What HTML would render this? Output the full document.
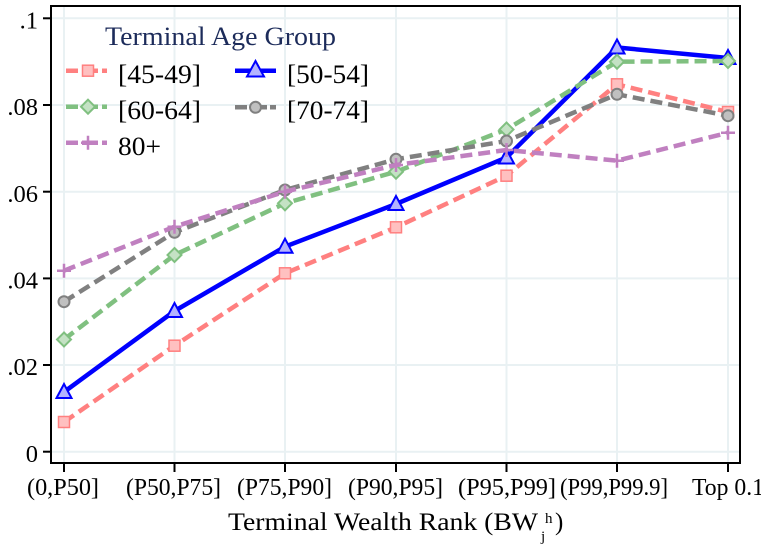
<!DOCTYPE html>
<html><head><meta charset="utf-8"><style>
html,body{margin:0;padding:0;background:#fff;}
svg{display:block;}
text{font-family:"Liberation Serif","DejaVu Serif",serif;}
</style></head><body>
<svg width="761" height="549" viewBox="0 0 761 549" xmlns="http://www.w3.org/2000/svg">
<rect x="0" y="0" width="761" height="549" fill="#fff"/>
<!-- grid -->
<g stroke="#e9f1f3" stroke-width="2">
<line x1="52" x2="739" y1="18.3" y2="18.3"/>
<line x1="52" x2="739" y1="105" y2="105"/>
<line x1="52" x2="739" y1="191.7" y2="191.7"/>
<line x1="52" x2="739" y1="278.4" y2="278.4"/>
<line x1="52" x2="739" y1="365" y2="365"/>
<line x1="52" x2="739" y1="451.7" y2="451.7"/>
<line x1="64" x2="64" y1="7" y2="462"/>
<line x1="174.5" x2="174.5" y1="7" y2="462"/>
<line x1="285" x2="285" y1="7" y2="462"/>
<line x1="396" x2="396" y1="7" y2="462"/>
<line x1="506.5" x2="506.5" y1="7" y2="462"/>
<line x1="617" x2="617" y1="7" y2="462"/>
<line x1="728" x2="728" y1="7" y2="462"/>
</g>
<!-- frame -->
<rect x="51" y="6" width="689" height="457" fill="none" stroke="#000" stroke-width="2"/>
<!-- ticks -->
<g stroke="#000" stroke-width="2">
<line x1="43" x2="51" y1="18.3" y2="18.3"/>
<line x1="43" x2="51" y1="105" y2="105"/>
<line x1="43" x2="51" y1="191.7" y2="191.7"/>
<line x1="43" x2="51" y1="278.4" y2="278.4"/>
<line x1="43" x2="51" y1="365" y2="365"/>
<line x1="43" x2="51" y1="451.7" y2="451.7"/>
<line x1="64" x2="64" y1="463" y2="472"/>
<line x1="174.5" x2="174.5" y1="463" y2="472"/>
<line x1="285" x2="285" y1="463" y2="472"/>
<line x1="396" x2="396" y1="463" y2="472"/>
<line x1="506.5" x2="506.5" y1="463" y2="472"/>
<line x1="617" x2="617" y1="463" y2="472"/>
<line x1="728" x2="728" y1="463" y2="472"/>
</g>
<g font-size="24.5" fill="#000" text-anchor="end">
<text x="38" y="28.5">.1</text>
<text x="38" y="115.2">.08</text>
<text x="38" y="201.9">.06</text>
<text x="38" y="288.6">.04</text>
<text x="38" y="375.2">.02</text>
<text x="38" y="462">0</text>
</g>
<g font-size="24.5" fill="#000">
<text x="27" y="495" textLength="72" lengthAdjust="spacingAndGlyphs">(0,P50]</text>
<text x="126" y="495" textLength="95" lengthAdjust="spacingAndGlyphs">(P50,P75]</text>
<text x="237" y="495" textLength="95" lengthAdjust="spacingAndGlyphs">(P75,P90]</text>
<text x="348" y="495" textLength="95" lengthAdjust="spacingAndGlyphs">(P90,P95]</text>
<text x="458" y="495" textLength="98" lengthAdjust="spacingAndGlyphs">(P95,P99]</text>
<text x="560" y="495" textLength="108" lengthAdjust="spacingAndGlyphs">(P99,P99.9]</text>
<text x="692" y="495" textLength="72" lengthAdjust="spacingAndGlyphs">Top 0.1</text>
</g>
<!-- axis title -->
<g font-size="25" fill="#000">
<text x="228" y="530" textLength="310" lengthAdjust="spacingAndGlyphs">Terminal Wealth Rank (BW</text>
<text x="545" y="523" font-size="15">h</text>
<text x="541" y="541" font-size="15">j</text>
<text x="555" y="530">)</text>
</g>

<!-- series 45-49 -->
<polyline fill="none" stroke="#ff8080" stroke-width="4.5" stroke-dasharray="12 6" points="64,422 174.5,345.7 285,273.3 396,227.3 506.5,175.7 617,84.3 728,112"/>
<g fill="#ffc0c0" stroke="#ff8080" stroke-width="1.5">
<rect x="58.5" y="416.5" width="11" height="11"/>
<rect x="169" y="340.2" width="11" height="11"/>
<rect x="279.5" y="267.8" width="11" height="11"/>
<rect x="390.5" y="221.8" width="11" height="11"/>
<rect x="501" y="170.2" width="11" height="11"/>
<rect x="611.5" y="78.8" width="11" height="11"/>
<rect x="722.5" y="106.5" width="11" height="11"/>
</g>
<!-- series 50-54 -->
<polyline fill="none" stroke="#0000ff" stroke-width="4.5" points="64,392 174.5,311 285,246.7 396,204 506.5,157.5 617,47.5 728,58"/>
<g fill="#b3b3ff" stroke="#0000ff" stroke-width="2">
<polygon points="64,384 71.5,398 56.5,398"/>
<polygon points="174.5,303 182,317 167,317"/>
<polygon points="285,238.7 292.5,252.7 277.5,252.7"/>
<polygon points="396,196 403.5,210 388.5,210"/>
<polygon points="506.5,149.5 514,163.5 499,163.5"/>
<polygon points="617,39.5 624.5,53.5 609.5,53.5"/>
<polygon points="728,50 735.5,64 720.5,64"/>
</g>
<!-- series 60-64 -->
<polyline fill="none" stroke="#80c080" stroke-width="4.5" stroke-dasharray="12 6" points="64,339.5 174.5,255 285,203.3 396,171.7 506.5,129.5 617,61.7 728,61"/>
<g fill="#c4e2c4" stroke="#80c080" stroke-width="2">
<polygon points="64,332.5 71,339.5 64,346.5 57,339.5"/>
<polygon points="174.5,248 181.5,255 174.5,262 167.5,255"/>
<polygon points="285,196.3 292,203.3 285,210.3 278,203.3"/>
<polygon points="396,164.7 403,171.7 396,178.7 389,171.7"/>
<polygon points="506.5,122.5 513.5,129.5 506.5,136.5 499.5,129.5"/>
<polygon points="617,54.7 624,61.7 617,68.7 610,61.7"/>
<polygon points="728,54 735,61 728,68 721,61"/>
</g>
<!-- series 70-74 -->
<polyline fill="none" stroke="#808080" stroke-width="4.5" stroke-dasharray="12 6" points="64,301.7 174.5,232.3 285,190 396,159.3 506.5,141 617,94.3 728,115.7"/>
<g fill="#c0c0c0" stroke="#808080" stroke-width="2">
<circle cx="64" cy="301.7" r="5.5"/>
<circle cx="174.5" cy="232.3" r="5.5"/>
<circle cx="285" cy="190" r="5.5"/>
<circle cx="396" cy="159.3" r="5.5"/>
<circle cx="506.5" cy="141" r="5.5"/>
<circle cx="617" cy="94.3" r="5.5"/>
<circle cx="728" cy="115.7" r="5.5"/>
</g>
<!-- series 80+ -->
<polyline fill="none" stroke="#c080c0" stroke-width="4.5" stroke-dasharray="12 6" points="64,270.7 174.5,226.7 285,191.7 396,165 506.5,150 617,160.7 728,132.7"/>
<g stroke="#c080c0" stroke-width="2.5">
<path d="M57,270.7h14M64,263.7v14"/>
<path d="M167.5,226.7h14M174.5,219.7v14"/>
<path d="M278,191.7h14M285,184.7v14"/>
<path d="M389,165h14M396,158v14"/>
<path d="M499.5,150h14M506.5,143v14"/>
<path d="M610,160.7h14M617,153.7v14"/>
<path d="M721,132.7h14M728,125.7v14"/>
</g>

<!-- legend -->
<text x="105" y="45" font-size="26" fill="#1c2b5a" textLength="231" lengthAdjust="spacingAndGlyphs">Terminal Age Group</text>
<g font-size="26" fill="#000">
<text x="118" y="83" textLength="83" lengthAdjust="spacingAndGlyphs">[45-49]</text>
<text x="118" y="119" textLength="83" lengthAdjust="spacingAndGlyphs">[60-64]</text>
<text x="118" y="155" textLength="43" lengthAdjust="spacingAndGlyphs">80+</text>
<text x="287" y="83" textLength="82" lengthAdjust="spacingAndGlyphs">[50-54]</text>
<text x="287" y="119" textLength="82" lengthAdjust="spacingAndGlyphs">[70-74]</text>
</g>
<!-- legend keys col 1 -->
<g stroke-width="4.5">
<path d="M66,70.7h12M82,70.7h16M102,70.7h5" stroke="#ff8080"/>
<rect x="82.5" y="65.2" width="11" height="11" fill="#ffc0c0" stroke="#ff8080" stroke-width="1.5"/>
<path d="M66,106.7h12M82,106.7h16M102,106.7h5" stroke="#80c080"/>
<polygon points="88,99.7 95,106.7 88,113.7 81,106.7" fill="#c4e2c4" stroke="#80c080" stroke-width="2"/>
<path d="M66,142.7h12M82,142.7h16M102,142.7h5" stroke="#c080c0"/>
<path d="M81,142.7h14M88,135.7v14" stroke="#c080c0" stroke-width="2.5"/>
</g>
<!-- legend keys col 2 -->
<g stroke-width="4.5">
<path d="M235,70.7h41" stroke="#0000ff"/>
<polygon points="255.5,61 264,76.5 247,76.5" fill="#b3b3ff" stroke="#0000ff" stroke-width="2"/>
<path d="M235,107.3h12M251,107.3h16M270,107.3h6" stroke="#808080"/>
<circle cx="255.5" cy="107.3" r="5.5" fill="#c0c0c0" stroke="#808080" stroke-width="2"/>
</g>
</svg>
</body></html>
